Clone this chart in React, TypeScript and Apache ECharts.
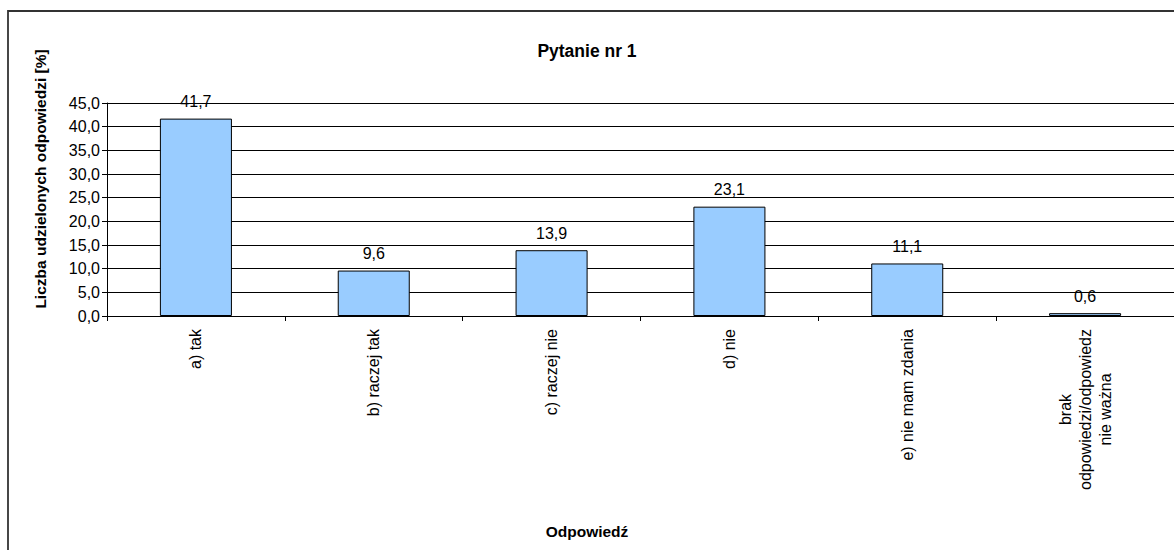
import React, { useEffect, useRef } from "react";
import * as echarts from "echarts";

const categories = [
  "a) tak",
  "b) raczej tak",
  "c) raczej nie",
  "d) nie",
  "e) nie mam zdania",
  "brak\nodpowiedzi/odpowiedz\nnie ważna",
];
const values = [41.7, 9.6, 13.9, 23.1, 11.1, 0.6];
const titleText = "Pytanie nr 1";
const yAxisTitle = "Liczba udzielonych odpowiedzi [%]";
const xAxisTitle = "Odpowiedź";

const FONT = "'Liberation Sans', Arial, sans-serif";
const comma = (v: number) => v.toFixed(1).replace(".", ",");

export default function App() {
  const ref = useRef<HTMLDivElement>(null);
  useEffect(() => {
    document.body.style.margin = "0";
    const chart = echarts.init(ref.current!, null, { renderer: "svg" });
    chart.setOption({
      animation: false,
      backgroundColor: "#fff",
      textStyle: { fontFamily: FONT, color: "#000" },
      title: [
        {
          text: titleText,
          left: "center",
          top: 37,
          textStyle: { fontFamily: FONT, fontSize: 17.5, fontWeight: "bold", color: "#000" },
        },
        {
          text: xAxisTitle,
          left: "center",
          top: 518,
          textStyle: { fontFamily: FONT, fontSize: 15.5, fontWeight: "bold", color: "#000" },
        },
      ],
      graphic: [
        {
          type: "rect",
          silent: true,
          shape: { x: 8, y: 11, width: 1300, height: 700 },
          style: { fill: "none", stroke: "#333", lineWidth: 1.8 },
        },
        {
          type: "text",
          x: 40,
          y: 179,
          rotation: Math.PI / 2,
          style: {
            text: yAxisTitle,
            font: `bold 15.5px ${FONT}`,
            fill: "#000",
            align: "center",
            verticalAlign: "middle",
          },
        },
      ],
      grid: { left: 107, top: 103, right: -1, bottom: 234, containLabel: false },
      xAxis: {
        type: "category",
        data: categories,
        axisLine: { lineStyle: { color: "#000", width: 1 } },
        axisTick: { show: true, length: 5, lineStyle: { color: "#000" } },
        axisLabel: {
          interval: 0,
          rotate: 90,
          margin: 13,
          fontSize: 16,
          color: "#000",
          fontFamily: FONT,
          lineHeight: 20,
          formatter: (v: string) =>
            v
              .split("\n")
              .map((l) => `{c|${l}}`)
              .join("\n"),
          rich: { c: { align: "center", fontSize: 16, fontFamily: FONT, color: "#000", lineHeight: 20 } },
        },
      },
      yAxis: {
        type: "value",
        min: 0,
        max: 45,
        interval: 5,
        axisLine: { show: true, lineStyle: { color: "#000", width: 1 } },
        axisTick: { show: true, length: 5, lineStyle: { color: "#000" } },
        axisLabel: {
          fontSize: 16,
          color: "#000",
          margin: 7,
          fontFamily: FONT,
          formatter: (v: number) => comma(v),
        },
        splitLine: { show: true, lineStyle: { color: "#000", width: 1 } },
      },
      series: [
        {
          type: "bar",
          data: values,
          barWidth: "40.5%",
          itemStyle: { color: "#99CCFF", borderColor: "#000", borderWidth: 1 },
          label: {
            show: true,
            position: "top",
            distance: 9,
            fontSize: 16,
            color: "#000",
            fontFamily: FONT,
            formatter: (p: any) => comma(p.value),
          },
        },
      ],
    });
    return () => chart.dispose();
  }, []);
  return <div ref={ref} style={{ width: 1174, height: 550 }} />;
}
